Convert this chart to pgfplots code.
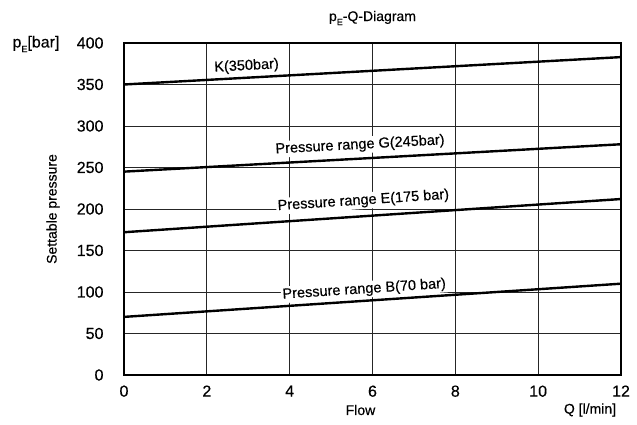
\documentclass[border=0pt]{standalone}
\usepackage{pgfplots}
\pgfplotsset{compat=1.18}
\usepackage{fontspec}
\setmainfont{Liberation Sans}[FakeBold=0.35]
\newcommand{\lblfont}{\fontsize{14.5bp}{16bp}\selectfont}
\newcommand{\tkfont}{\fontsize{16bp}{18bp}\selectfont}
\newcommand{\axfont}{\fontsize{14bp}{16bp}\selectfont}
\newcommand{\subE}{\raisebox{-0.55ex}{\fontsize{9bp}{9bp}\selectfont E}}
\begin{document}
\begin{tikzpicture}
\begin{axis}[
 scale only axis, width=497bp, height=332bp,
 xmin=0,xmax=12,ymin=0,ymax=400,
 xtick={0,2,...,12}, ytick={0,50,...,400},
 grid=major, grid style={black!85, line width=0.8bp},
 axis line style={line width=1.1bp},
 tick style={draw=none},
 /pgf/number format/assume math mode=true,
 ticklabel style={font=\tkfont},
 xticklabel style={yshift=-7bp},
 yticklabel style={xshift=-17bp},
 clip=false,
]
\addplot[line width=2.4bp] coordinates {(0,350) (12,383)};
\addplot[line width=2.4bp] coordinates {(0,245) (12,278)};
\addplot[line width=2.4bp] coordinates {(0,172) (12,212)};
\addplot[line width=2.4bp] coordinates {(0,70) (12,110)};
\node[fill=white, inner sep=1.5bp, rotate=3.1, font=\lblfont] at (axis cs:2.96,372) {K(350bar)};
\node[fill=white, inner sep=1.5bp, rotate=3.1, font=\lblfont] at (axis cs:5.70,277) {Pressure range G(245bar)};
\node[fill=white, inner sep=1.5bp, rotate=3.8, font=\lblfont] at (axis cs:5.78,210) {Pressure range E(175 bar)};
\node[fill=white, inner sep=1.5bp, rotate=3.8, font=\lblfont] at (axis cs:5.80,103) {Pressure range B(70 bar)};
\node[font=\axfont] at ([yshift=25bp]rel axis cs:0.5,1) {p\subE-Q-Diagram};
\node[font=\tkfont] at ([xshift=-88bp,yshift=-1bp]rel axis cs:0,1) {p\subE[bar]};
\node[font=\axfont, rotate=90] at ([xshift=-71bp]rel axis cs:0,0.5) {Settable pressure};
\node[font=\axfont] at ([xshift=-12bp,yshift=-35bp]rel axis cs:0.5,0) {Flow};
\node[font=\axfont] at ([xshift=-31bp,yshift=-35bp]rel axis cs:1,0) {Q [l/min]};
\path ([xshift=-124bp,yshift=-50bp]rel axis cs:0,0) rectangle ([xshift=16bp,yshift=43bp]rel axis cs:1,1);
\end{axis}
\end{tikzpicture}
\end{document}
